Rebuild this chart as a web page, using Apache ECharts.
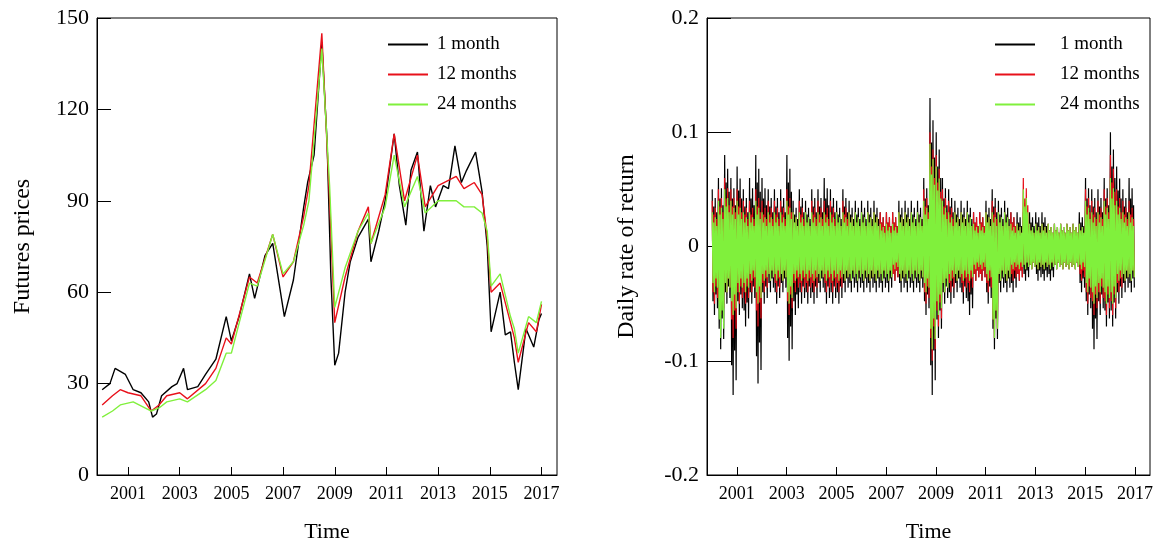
<!DOCTYPE html>
<html><head><meta charset="utf-8">
<script src="https://cdn.jsdelivr.net/npm/echarts@6/dist/echarts.min.js"></script>
<style>html,body{margin:0;background:#fff}#c{width:1171px;height:550px}</style>
</head><body><div id="c"></div>
<script>
// prices: [year, value]
var price1m = [[2000.0,28],[2000.3,30],[2000.5,35],[2000.7,34],[2000.9,33],[2001.2,28],[2001.5,27],[2001.8,24],[2001.95,19],[2002.1,20],[2002.3,26],[2002.7,29],[2002.9,30],[2003.15,35],[2003.3,28],[2003.7,29],[2004.0,33],[2004.4,38],[2004.8,52],[2005.0,44],[2005.3,52],[2005.7,66],[2005.9,58],[2006.3,72],[2006.6,76],[2006.9,60],[2007.05,52],[2007.4,64],[2007.8,88],[2007.95,96],[2008.2,105],[2008.5,142],[2008.7,110],[2008.85,65],[2009.0,36],[2009.15,40],[2009.4,60],[2009.6,70],[2009.9,78],[2010.3,84],[2010.4,70],[2010.7,80],[2010.95,90],[2011.3,112],[2011.5,95],[2011.75,82],[2011.95,100],[2012.2,106],[2012.45,80],[2012.7,95],[2012.9,88],[2013.2,95],[2013.4,94],[2013.65,108],[2013.9,96],[2014.1,100],[2014.45,106],[2014.7,93],[2014.9,75],[2015.05,47],[2015.4,60],[2015.6,46],[2015.8,47],[2015.95,37],[2016.1,28],[2016.4,48],[2016.7,42],[2016.9,51],[2017.0,53]];
var price12m = [[2000.0,23],[2000.4,26],[2000.7,28],[2001.0,27],[2001.5,26],[2001.9,21],[2002.2,23],[2002.5,26],[2003.0,27],[2003.3,25],[2004.0,30],[2004.4,35],[2004.8,45],[2005.0,43],[2005.7,65],[2006.0,63],[2006.6,79],[2007.0,65],[2007.4,70],[2007.8,85],[2008.0,95],[2008.5,145],[2008.8,90],[2009.0,50],[2009.4,65],[2009.9,80],[2010.3,88],[2010.4,76],[2010.95,92],[2011.3,112],[2011.7,90],[2012.2,105],[2012.5,88],[2013.0,95],[2013.7,98],[2014.0,94],[2014.4,96],[2014.7,92],[2014.9,78],[2015.05,60],[2015.4,63],[2015.8,50],[2015.95,45],[2016.1,37],[2016.5,50],[2016.8,47],[2017.0,56]];
var price24m = [[2000.0,19],[2000.4,21],[2000.7,23],[2001.2,24],[2001.9,21],[2002.2,22],[2002.5,24],[2003.0,25],[2003.3,24],[2004.0,28],[2004.4,31],[2004.8,40],[2005.0,40],[2005.7,63],[2006.0,62],[2006.6,79],[2007.0,66],[2007.4,70],[2007.8,82],[2008.0,90],[2008.5,140],[2008.8,95],[2009.0,55],[2009.4,68],[2009.9,80],[2010.3,86],[2010.4,76],[2010.95,88],[2011.3,105],[2011.7,88],[2012.2,98],[2012.5,86],[2013.0,90],[2013.7,90],[2014.0,88],[2014.4,88],[2014.7,86],[2014.9,80],[2015.05,62],[2015.4,66],[2015.8,52],[2015.95,48],[2016.1,40],[2016.5,52],[2016.8,50],[2017.0,57]];

// daily returns: quarterly highs and lows, 2000Q1..2016Q4
var hi1m = [.05,.06,.08,.06, .07,.05,.06,.08, .06,.05,.05,.05, .08,.04,.05,.04, .05,.05,.06,.05, .04,.05,.04,.04, .04,.04,.04,.03, .03,.03,.04,.04, .04,.04,.06,.13, .10,.06,.05,.04, .04,.04,.03,.03, .04,.05,.04,.04, .03,.03,.03,.03, .03,.03,.02,.02, .02,.02,.02,.03, .06,.05,.05,.06, .10,.07,.05,.06];
var lo1m = [-.06,-.09,-.05,-.13, -.06,-.07,-.05,-.12, -.05,-.04,-.05,-.04, -.10,-.06,-.05,-.05, -.05,-.04,-.05,-.05, -.05,-.04,-.04,-.04, -.04,-.04,-.04,-.04, -.04,-.03,-.04,-.04, -.04,-.04,-.06,-.13, -.08,-.05,-.05,-.04, -.05,-.06,-.03,-.03, -.05,-.09,-.04,-.04, -.04,-.03,-.03,-.02, -.03,-.03,-.03,-.02, -.02,-.02,-.02,-.04, -.06,-.09,-.06,-.07, -.07,-.05,-.04,-.04];
var hi12m = [.04,.05,.06,.05, .05,.04,.04,.05, .04,.04,.04,.04, .05,.03,.04,.03, .04,.04,.04,.04, .03,.04,.03,.03, .03,.03,.03,.03, .03,.03,.03,.03, .03,.03,.05,.10, .08,.05,.04,.03, .03,.03,.03,.03, .03,.04,.03,.03, .03,.02,.06,.02, .02,.02,.02,.02, .02,.02,.02,.02, .05,.04,.04,.05, .08,.05,.04,.04];
var lo12m = [-.05,-.06,-.04,-.08, -.05,-.05,-.04,-.07, -.04,-.03,-.04,-.03, -.06,-.04,-.04,-.04, -.04,-.03,-.04,-.04, -.04,-.03,-.03,-.03, -.03,-.03,-.03,-.03, -.03,-.03,-.03,-.03, -.03,-.03,-.05,-.10, -.07,-.04,-.04,-.03, -.04,-.04,-.03,-.03, -.04,-.08,-.03,-.03, -.03,-.03,-.02,-.02, -.02,-.02,-.02,-.02, -.02,-.02,-.02,-.03, -.05,-.06,-.05,-.06, -.06,-.04,-.03,-.03];
var hi24m = [.03,.04,.05,.04, .04,.03,.03,.04, .03,.03,.03,.03, .04,.03,.03,.03, .03,.03,.03,.03, .03,.03,.03,.03, .03,.03,.03,.02, .02,.02,.03,.03, .03,.03,.04,.09, .07,.04,.03,.03, .03,.03,.02,.02, .03,.03,.03,.03, .02,.02,.05,.02, .02,.02,.02,.02, .02,.02,.02,.02, .04,.03,.03,.04, .06,.04,.03,.03];
var lo24m = [-.04,-.08,-.04,-.06, -.04,-.04,-.03,-.05, -.03,-.03,-.03,-.03, -.05,-.03,-.03,-.03, -.03,-.03,-.03,-.03, -.03,-.03,-.03,-.03, -.03,-.03,-.03,-.03, -.03,-.02,-.03,-.03, -.03,-.03,-.04,-.09, -.06,-.04,-.03,-.03, -.03,-.03,-.02,-.02, -.03,-.08,-.03,-.03, -.02,-.02,-.02,-.02, -.02,-.02,-.02,-.02, -.02,-.02,-.02,-.02, -.04,-.05,-.04,-.05, -.05,-.03,-.03,-.03];

var yearTicks = [2001,2003,2005,2007,2009,2011,2013,2015,2017];
var names = ['1 month','12 months','24 months'];
var colors = ['#000000','#e8101a','#80f03c'];
var font = 'Liberation Serif';

function zig(hi, lo) {
    var out = [];
    for (var i = 0; i < hi.length; i++) {
        var t = 2000 + i * 0.25;
        out.push([t + 0.01, hi[i]], [t + 0.04, lo[i] * 0.8], [t + 0.07, hi[i] * 0.7], [t + 0.10, lo[i]],
                 [t + 0.13, hi[i] * 0.85], [t + 0.16, lo[i] * 0.7], [t + 0.19, hi[i] * 0.6], [t + 0.22, lo[i] * 0.9]);
    }
    return out;
}

function xAx(idx) {
    return {
        type: 'value', gridIndex: idx, min: 1999.8, max: 2017.6,
        name: 'Time', nameLocation: 'middle', nameGap: 46,
        nameTextStyle: {fontFamily: font, fontSize: 22, color: '#000'},
        axisLine: {onZero: false, lineStyle: {color: '#000'}},
        axisTick: {inside: true, length: 8, customValues: yearTicks, lineStyle: {color: '#000'}},
        axisLabel: {customValues: yearTicks, fontFamily: font, fontSize: 18, color: '#000', margin: 10,
            formatter: function (v) { return String(v); }},
        splitLine: {show: false}
    };
}

function lineS(name, data, i, xi, w) {
    return {name: name, type: 'line', xAxisIndex: xi, yAxisIndex: xi, data: data, showSymbol: false,
        lineStyle: {width: w, color: colors[i]}, itemStyle: {color: colors[i]}, z: 2 + i, animation: false};
}

var myChart = echarts.init(document.getElementById('c'));
var option = {
    backgroundColor: '#fff',
    grid: [
        {left: 97, right: 614, top: 18, bottom: 75, show: true, borderColor: '#000', borderWidth: 1},
        {left: 707, right: 21, top: 18, bottom: 75, show: true, borderColor: '#000', borderWidth: 1}
    ],
    legend: [
        {data: names, orient: 'vertical', left: 383, top: 30, itemWidth: 40, itemGap: 11, icon: 'rect', itemHeight: 2,
            textStyle: {fontFamily: font, fontSize: 19, color: '#000', padding: [0, 0, 0, 4]}},
        {data: names, orient: 'vertical', left: 990, top: 30, itemWidth: 40, itemGap: 11, icon: 'rect', itemHeight: 2,
            textStyle: {fontFamily: font, fontSize: 19, color: '#000', padding: [0, 0, 0, 20]}}
    ],
    xAxis: [xAx(0), xAx(1)],
    yAxis: [
        {type: 'value', gridIndex: 0, min: 0, max: 150, interval: 30,
            name: 'Futures prices', nameLocation: 'middle', nameGap: 62,
            nameTextStyle: {fontFamily: font, fontSize: 24, color: '#000'},
            axisLine: {lineStyle: {color: '#000'}},
            axisTick: {inside: true, length: 14, lineStyle: {color: '#000'}},
            axisLabel: {fontFamily: font, fontSize: 22, color: '#000'}, splitLine: {show: false}},
        {type: 'value', gridIndex: 1, min: -0.2, max: 0.2, interval: 0.1,
            name: 'Daily rate of return', nameLocation: 'middle', nameGap: 68,
            nameTextStyle: {fontFamily: font, fontSize: 24, color: '#000'},
            axisLine: {lineStyle: {color: '#000'}},
            axisTick: {inside: true, length: 24, lineStyle: {color: '#000'}},
            axisLabel: {fontFamily: font, fontSize: 22, color: '#000',
                formatter: function (v) { return v === 0 ? '0' : String(Math.round(v * 10) / 10); }},
            splitLine: {show: false}}
    ],
    series: [
        lineS(names[0], price1m, 0, 0, 1.4),
        lineS(names[1], price12m, 1, 0, 1.4),
        lineS(names[2], price24m, 2, 0, 1.4),
        lineS(names[0], zig(hi1m, lo1m), 0, 1, 1.2),
        lineS(names[1], zig(hi12m, lo12m), 1, 1, 1.2),
        lineS(names[2], zig(hi24m, lo24m), 2, 1, 1.2)
    ]
};
myChart.setOption(option);
</script></body></html>
